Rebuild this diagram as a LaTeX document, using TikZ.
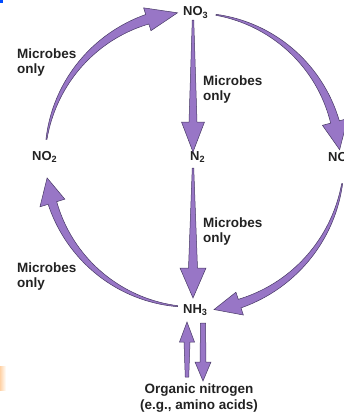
\documentclass[tikz,border=0pt]{standalone}
\usepackage{fontspec}
\setmainfont{Liberation Sans}
\definecolor{arrfill}{HTML}{9876C6}
\definecolor{arrline}{HTML}{463864}
\definecolor{txt}{HTML}{222222}
% tapered arc arrow around centre (193,160): #1 start angle, #2 head base angle, #3 tip angle,
% #4 start width, #5 width at head base, #6 head width, #7 radius
\newcommand{\arcarrow}[7]{%
  \filldraw[arr]
    plot[domain=#1:#2, samples=40, variable=\t]
      ({193+((#7)+((#4)+((#5)-(#4))*(\t-(#1))/((#2)-(#1)))/2)*cos(\t)},
       {160-((#7)+((#4)+((#5)-(#4))*(\t-(#1))/((#2)-(#1)))/2)*sin(\t)})
    -- ({193+((#7)+(#6)/2)*cos(#2)}, {160-((#7)+(#6)/2)*sin(#2)})
    -- ({193+(#7)*cos(#3)}, {160-(#7)*sin(#3)})
    -- ({193+((#7)-(#6)/2)*cos(#2)}, {160-((#7)-(#6)/2)*sin(#2)})
    -- plot[domain=#2:#1, samples=40, variable=\t]
      ({193+((#7)-((#4)+((#5)-(#4))*(\t-(#1))/((#2)-(#1)))/2)*cos(\t)},
       {160-((#7)-((#4)+((#5)-(#4))*(\t-(#1))/((#2)-(#1)))/2)*sin(\t)})
    -- cycle;}
% tapered vertical arrow: #1 x, #2 start y, #3 head base y, #4 tip y, #5 start width, #6 base width, #7 head width
\newcommand{\varrow}[7]{%
  \filldraw[arr] ({#1-(#5)/2},#2) -- ({#1-(#6)/2},#3) -- ({#1-(#7)/2},#3) -- (#1,#4)
    -- ({#1+(#7)/2},#3) -- ({#1+(#6)/2},#3) -- ({#1+(#5)/2},#2) -- cycle;}
\begin{document}
\begin{tikzpicture}[x=1pt,y=-1pt,
  arr/.style={fill=arrfill, draw=arrline, line width=0.5pt, line join=miter},
  spc/.style={inner sep=0pt, text=txt, font=\fontsize{13}{14}\selectfont\bfseries, anchor=base west},
  lab/.style={inner sep=0pt, text=txt, font=\fontsize{13.5}{15}\selectfont\bfseries, align=left, anchor=north west}]
\useasboundingbox (0,0) rectangle (344,415);
\clip (0,0) rectangle (344,415);
% scan artefacts at the left edge
\fill[blue!70!cyan] (0,0) rectangle (3,3);
\shade[left color=orange!35, right color=white] (0,366) rectangle (6,390);
% species
\node[spc] (no3) at (183,16) {NO\textsubscript{3}};
\node[spc] (no2) at (32,160.5) {NO\textsubscript{2}};
\node[spc] (n2) at (190,160.5) {N\textsubscript{2}};
\node[spc] (no) at (328,161) {NO};
\node[spc] (nh3) at (183,313.5) {NH\textsubscript{3}};
\node[inner sep=0pt, text=txt, font=\fontsize{13.5}{15.5}\selectfont\bfseries, align=center, anchor=north] (org) at (199,384) {Organic nitrogen\\(e.g., amino acids)};
% labels
\node[lab] (l1) at (17,48.5) {Microbes\\only};
\node[lab] (l2) at (203,75.5) {Microbes\\only};
\node[lab] (l3) at (203,217.5) {Microbes\\only};
\node[lab] (l4) at (17,262.5) {Microbes\\only};
% cycle arrows
\arcarrow{172}{108}{96}{1}{10}{24}{148}   % NO2 -> NO3
\arcarrow{81}{15}{4}{1}{9}{26}{147}       % NO3 -> NO
\arcarrow{-9}{-72}{-82}{1}{9}{24}{151}    % NO -> NH3
\arcarrow{264}{197}{187}{1}{9}{26}{147}   % NH3 -> NO2
% straight arrows
\varrow{193}{20}{122}{152}{1.5}{8}{23}    % NO3 -> N2
\varrow{193}{168}{268}{298}{1.5}{9}{26}   % N2 -> NH3
\varrow{187}{377}{342}{322}{3.5}{6}{15}   % organic -> NH3
\varrow{203}{323}{362}{381}{5}{6}{16}     % NH3 -> organic
\end{tikzpicture}
\end{document}
